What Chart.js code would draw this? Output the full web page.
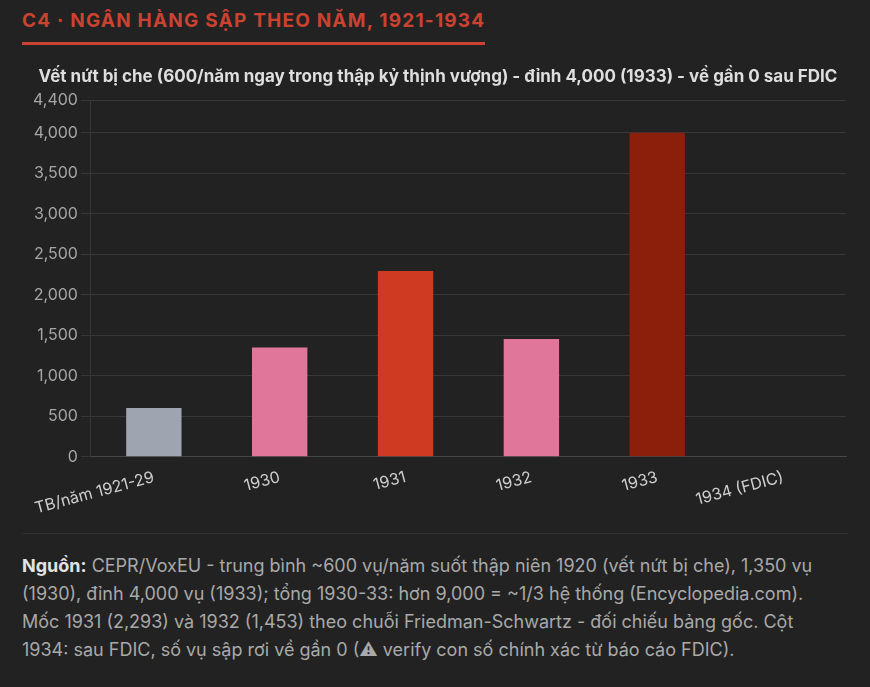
<!DOCTYPE html>
<html>
<head>
<meta charset="utf-8">
<script src="https://cdn.jsdelivr.net/npm/chart.js@4"></script>
<style>
  html, body { margin: 0; padding: 0; background: #222222; }
  body { width: 870px; height: 687px; position: relative; overflow: hidden; font-family: Inter, sans-serif; }
  h2 {
    position: absolute; left: 22px; top: 9px; margin: 0;
    font-size: 19px; font-weight: 700; color: #cb4230;
    padding-bottom: 10px; border-bottom: 3px solid #cb4230;
    letter-spacing: 1.2px;
  }
  .wrap { position: absolute; left: 22px; top: 60px; width: 826px; height: 473px; border-bottom: 1px solid #2f2f2f; }
  .note {
    position: absolute; left: 22px; top: 552px; width: 810px;
    font-size: 18px; line-height: 28px; color: #a9a9a9;
  }
  .note b { color: #e2e2e2; }
</style>
</head>
<body>
<h2>C4 · NGÂN HÀNG SẬP THEO NĂM, 1921-1934</h2>
<div class="wrap"><canvas id="graficoBanks"></canvas></div>
<div class="note"><b>Nguồn:</b> CEPR/VoxEU - trung bình ~600 vụ/năm suốt thập niên 1920 (vết nứt bị che), 1,350 vụ (1930), đỉnh 4,000 vụ (1933); tổng 1930-33: hơn 9,000 = ~1/3 hệ thống (Encyclopedia.com). Mốc 1931 (2,293) và 1932 (1,453) theo chuỗi Friedman-Schwartz - đối chiếu bảng gốc. Cột 1934: sau FDIC, số vụ sập rơi về gần 0 (⚠ verify con số chính xác từ báo cáo FDIC).</div>
<script>
const anos = ['TB/năm 1921-29', '1930', '1931', '1932', '1933', '1934 (FDIC)'];
const falencias = [600, 1350, 2293, 1453, 4000, 0];
const coresBarras = ['#9ea4b0', '#e0779b', '#cf3a22', '#e0779b', '#8c1f0c', '#8c1f0c'];
const yMax = 4400;
const yStep = 500;

Chart.defaults.font.family = 'Inter';

const data = {
    labels: anos,
    datasets: [{
        label: 'Ngân hàng sập',
        data: falencias,
        backgroundColor: coresBarras,
        borderWidth: 0,
        barPercentage: 0.55,
        categoryPercentage: 0.8,
    }]
};

const config = {
    type: 'bar',
    data: data,
    options: {
        responsive: true,
        maintainAspectRatio: false,
        animation: false,
        layout: { padding: { left: 8, right: 2, bottom: 12 } },
        scales: {
            x: {
                grid: { display: false },
                border: { color: '#474747' },
                ticks: {
                    color: '#cfcfcf',
                    font: { size: 16 },
                    minRotation: 15,
                    maxRotation: 15,
                }
            },
            y: {
                beginAtZero: true,
                max: yMax,
                grid: { color: '#383838', tickLength: 10 },
                border: { color: '#383838' },
                ticks: {
                    stepSize: yStep,
                    color: '#a6a6a6',
                    font: { size: 16 },
                }
            }
        },
        plugins: {
            legend: { display: false },
            tooltip: { enabled: false },
            title: {
                display: true,
                text: 'Vết nứt bị che (600/năm ngay trong thập kỷ thịnh vượng) - đỉnh 4,000 (1933) - về gần 0 sau FDIC',
                color: '#dedede',
                font: { size: 17, weight: 'bold' },
                padding: { top: 7, bottom: 13 },
            },
        },
    },
};

const graficoBanks = new Chart(document.getElementById('graficoBanks'), config);
</script>
</body>
</html>
